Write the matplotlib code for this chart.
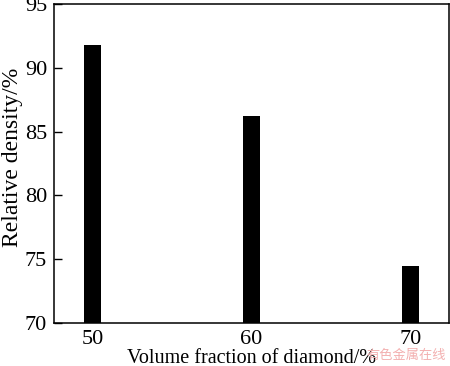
import matplotlib
matplotlib.use("Agg")
import matplotlib.pyplot as plt

fractions = [50, 60, 70]
densities = [91.8, 86.2, 74.5]
yticks = [70, 75, 80, 85, 90, 95]

plt.rcParams['font.family'] = ['Liberation Serif', 'Noto Sans CJK SC', 'DejaVu Sans']

fig = plt.figure(figsize=(4.5, 3.66), dpi=100)
ax = fig.add_axes([0.12, 0.1175, 0.878, 0.8715])

ax.bar(fractions, densities, width=1.07, color='black', bottom=0)
ax.set_xlim(47.58, 72.45)
ax.set_ylim(70, 95)
ax.set_xticks(fractions)
ax.set_xticklabels([str(f) for f in fractions])
ax.set_yticks(yticks)
ax.tick_params(axis='y', direction='in', length=6, width=1, labelsize=16, pad=5)
ax.tick_params(axis='x', length=0, labelsize=16, pad=5)
for s in ax.spines.values():
    s.set_linewidth(1.1)

fig.text(0.99, 0.01, '有色金属在线', fontsize=9.5, color='#f3b0b0',
         ha='right', va='bottom', family=['Noto Sans CJK SC'], zorder=0)
ax.set_xlabel('Volume fraction of diamond/%', fontsize=14.5, labelpad=0)
ax.set_ylabel('Relative density/%', fontsize=17)
ax.yaxis.set_label_coords(-0.079, 0.52)

fig.savefig('out.png', dpi=100)
